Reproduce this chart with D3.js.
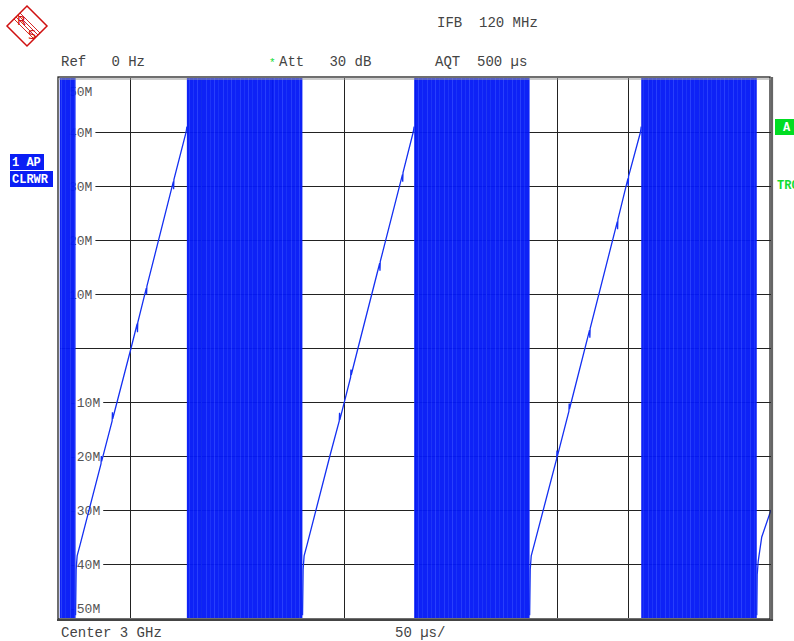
<!DOCTYPE html>
<html><head><meta charset="utf-8">
<script src="https://cdn.jsdelivr.net/npm/d3@7"></script>
<style>
html,body{margin:0;padding:0;background:#fff;}
svg{display:block;}
text{font-family:"Liberation Mono","DejaVu Sans Mono",monospace;}
</style></head>
<body><svg id="c" width="794" height="641"></svg>
<script>
// ---- data ----
const timeTicks = [50,100,150,200,250,300,350,400,450];          // µs grid
const freqTicks = [40,30,20,10,0,-10,-20,-30,-40];                // MHz grid
const freqLabelValues = [50,40,30,20,10,-10,-20,-30,-40,-50];
const freqLabels = ["50M","40M","30M","20M","10M","-10M","-20M","-30M","-40M","-50M"];
// noisy (full-scale) segments of the trace, µs
const noiseStart = [0, 89.5, 249.2, 408.8];
const noiseEnd   = [11.3, 170.7, 330.4, 490.0];
// linear FM ramps [time µs, freq MHz]
const ramp1 = [[11.3,-49.5],[11.7,-41],[12.4,-38.5],[14.5,-36.4],[29.2,-21.4],[29.4,-20.0],[29.6,-21.0],
  [37.0,-13.5],[37.2,-11.9],[37.4,-13.1],[50.3,0],[54.6,4.5],[54.8,2.9],[55.0,4.7],[61.0,11.1],[61.2,9.9],
  [61.4,11.4],[80.0,30.8],[80.2,29.4],[80.4,31.2],[89.0,40.0],[89.5,41.0]];
const ramp2 = [[170.8,-49.5],[171.2,-41],[171.9,-38.5],[174.0,-36.4],[190.0,-20.0],[196.6,-13.5],[196.8,-12.0],
  [197.0,-13.3],[204.6,-5.4],[204.8,-4.0],[205.0,-5.0],[209.8,0],[225.0,15.7],[225.2,14.3],[225.4,16.0],
  [241.0,32.1],[241.2,30.8],[241.4,32.5],[248.6,40.0],[249.2,41.0]];
const ramp3 = [[330.4,-49.5],[330.8,-41],[331.5,-38.5],[333.6,-36.4],[349.4,-20.5],[349.6,-19.0],[349.8,-20.1],
  [358.0,-11.7],[358.2,-10.3],[358.4,-11.3],[372.5,3.3],[372.7,1.9],[372.9,3.6],[392.0,23.4],[392.2,22.0],
  [392.4,23.8],[399.5,31.4],[399.7,30.0],[399.9,31.8],[408.3,40.0],[408.8,41.0]];
const ramp4 = [[490.0,-49.5],[490.3,-42],[491.0,-39.5],[493.5,-35.0],[500,-30.0]];
const ramps = [ramp1, ramp2, ramp3, ramp4];

// ---- scales ----
const svg = d3.select("#c");
const x = d3.scaleLinear().domain([0,500]).range([59.5,771]);
const y = d3.scaleLinear().domain([-50,50]).range([618,78]);

const defs = svg.append("defs");
const pat = defs.append("pattern").attr("id","noise").attr("patternUnits","userSpaceOnUse")
  .attr("width",17).attr("height",10);
pat.append("rect").attr("width",17).attr("height",10).attr("fill","#0419f6");
[[2,"#1c34fa"],[6,"#142cf8"],[10,"#2038fb"],[14,"#102af7"]].forEach(([px,c])=>{
  pat.append("rect").attr("x",px).attr("y",0).attr("width",1).attr("height",10).attr("fill",c);
});
defs.append("clipPath").attr("id","plot").append("rect")
  .attr("x",x(0)).attr("y",y(50)).attr("width",x(500)-x(0)).attr("height",y(-50)-y(50));

// ---- grid ----
const g = svg.append("g");
g.selectAll("line.v").data(timeTicks).enter().append("line")
  .attr("x1",d=>x(d)).attr("x2",d=>x(d)).attr("y1",y(50)).attr("y2",y(-50))
  .attr("stroke","#222").attr("stroke-width",1).attr("shape-rendering","crispEdges");
g.selectAll("line.h").data(freqTicks).enter().append("line")
  .attr("x1",x(0)).attr("x2",x(500)).attr("y1",d=>y(d)).attr("y2",d=>y(d))
  .attr("stroke","#222").attr("stroke-width",1).attr("shape-rendering","crispEdges");

// ---- y labels (inside plot) ----
const lab = g.selectAll("g.lab").data(freqLabelValues).enter().append("g")
  .attr("transform",d=>`translate(69,${Math.min(Math.max(y(d),91),608)})`);
lab.append("rect").attr("x",-9).attr("y",-7).attr("width",(d,i)=>freqLabels[i].length*7.8+12).attr("height",14).attr("fill","#fff");
lab.append("text").attr("x",0).attr("y",4.5).attr("font-size",13).attr("fill","#555")
  .text((d,i)=>freqLabels[i]);

// ---- noise blocks ----
const plot = svg.append("g").attr("clip-path","url(#plot)");
plot.selectAll("rect.n").data(noiseStart).enter().append("rect")
  .attr("x",(d)=>x(d)).attr("width",(d,i)=>x(noiseEnd[i])-x(d))
  .attr("y",y(50)).attr("height",y(-50)-y(50))
  .attr("fill","url(#noise)").attr("opacity",0.96);

// ---- ramps ----
const line = d3.line().x(d=>x(d[0])).y(d=>y(d[1]));
plot.selectAll("path.r").data(ramps).enter().append("path")
  .attr("d",line).attr("fill","none").attr("stroke","#1430f2").attr("stroke-width",1.3);

// ---- frame ----
svg.append("rect").attr("x",58).attr("y",77).attr("width",712).attr("height",542)
  .attr("fill","none").attr("stroke","#222").attr("stroke-width",1.3);
svg.append("line").attr("x1",58).attr("x2",772).attr("y1",79).attr("y2",79).attr("stroke","#999").attr("stroke-width",1);
svg.append("line").attr("x1",772).attr("x2",772).attr("y1",77).attr("y2",621).attr("stroke","#666").attr("stroke-width",2.2);
svg.append("line").attr("x1",57).attr("x2",773).attr("y1",620).attr("y2",620).attr("stroke","#444").attr("stroke-width",2);

// ---- header / footer texts ----
const T = (tx,ty,s,fill,size,w)=>svg.append("text").attr("x",tx).attr("y",ty).attr("font-size",size||14)
  .attr("fill",fill||"#444").attr("font-weight",w||"normal").attr("xml:space","preserve").style("white-space","pre").text(s);
T(437,27,"IFB  120 MHz");
T(61,66,"Ref   0 Hz");
T(269,66,"*","#11dd33",11);
T(279,66,"Att   30 dB");
T(435,66,"AQT  500 µs");
T(61,637,"Center 3 GHz");
T(395,637,"50 µs/");

// ---- left trace labels ----
svg.append("rect").attr("x",10).attr("y",154).attr("width",34).attr("height",16).attr("fill","#0a1ef5");
svg.append("rect").attr("x",10).attr("y",171).attr("width",43).attr("height",16).attr("fill","#0a1ef5");
T(12,166,"1 AP","#fff",12,"bold");
T(12,183,"CLRWR","#fff",12,"bold");

// ---- right markers ----
svg.append("rect").attr("x",775).attr("y",119).attr("width",19).attr("height",16).attr("fill","#00dd22");
T(783,131,"A","#fff",12,"bold");
T(777,189,"TRG","#11dd33",12,"bold");

// ---- R&S logo ----
const logo = svg.append("g").attr("transform","translate(27,26)");
logo.append("path").attr("d","M0,-20 L20,0 L0,20 L-20,0 Z").attr("fill","none").attr("stroke","#d01010").attr("stroke-width",1.5);
[-3,-1,1,3].forEach(o=>{
  logo.append("line").attr("x1",-10+o).attr("y1",-10-o).attr("x2",10+o).attr("y2",10-o)
    .attr("stroke","#d01010").attr("stroke-width",0.9);
});
logo.append("text").attr("x",-10).attr("y",-1).attr("font-size",13).attr("fill","#d01010")
  .style("font-family","'DejaVu Sans',sans-serif").text("R");
logo.append("text").attr("x",1).attr("y",13).attr("font-size",13).attr("fill","#d01010")
  .style("font-family","'DejaVu Sans',sans-serif").text("S");
</script>
</body></html>
